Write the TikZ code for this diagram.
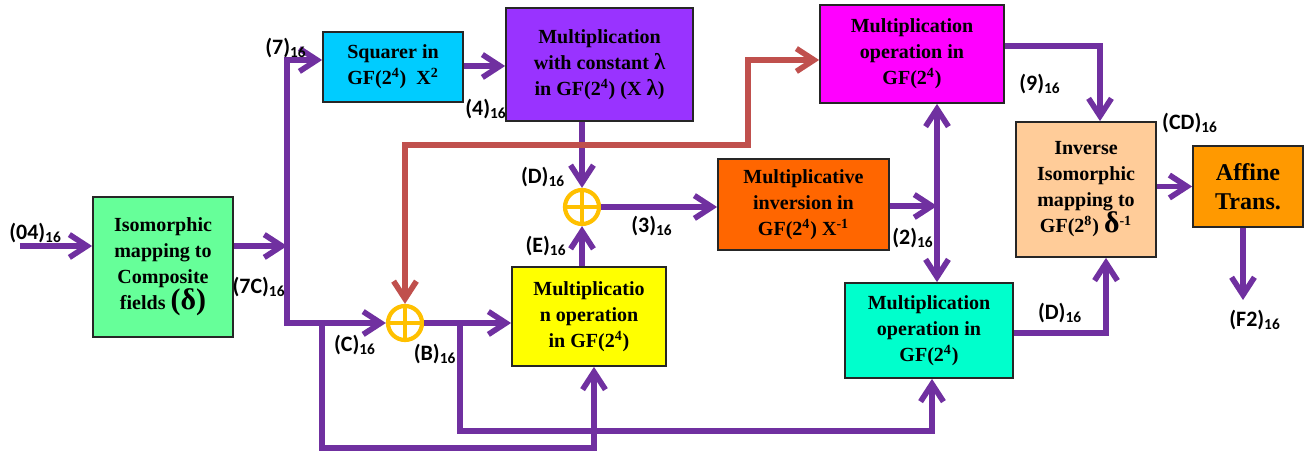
\documentclass[tikz,border=0pt]{standalone}
\usepackage{fontspec}
\setmainfont{Liberation Serif}
\newfontfamily\lblfont{Carlito}
\usetikzlibrary{arrows.meta}
\definecolor{wirec}{HTML}{7030A0}
\definecolor{redc}{HTML}{C0504D}
\definecolor{xorc}{HTML}{FFC000}
\definecolor{isoc}{HTML}{66FF99}
\definecolor{sqc}{HTML}{00CCFF}
\definecolor{lamc}{HTML}{9933FF}
\definecolor{magc}{HTML}{FF00FF}
\definecolor{invc}{HTML}{FF6600}
\definecolor{yelc}{HTML}{FFFF00}
\definecolor{tealc}{HTML}{00FFCC}
\definecolor{peachc}{HTML}{FFCC99}
\definecolor{affc}{HTML}{FF9900}
\newcommand{\hexv}[1]{#1\textsubscript{16}}
\newcommand{\gfq}[1]{GF(2\textsuperscript{#1})}

\begin{document}
\begin{tikzpicture}[
    box/.style={rectangle, draw=black!85, line width=1pt, align=center,
                inner sep=1pt, font=\fontsize{11.4}{14.8}\selectfont\bfseries},
    xor/.style={circle, draw=xorc, line width=2.4pt, minimum size=0.68cm, inner sep=0pt},
    barb/.tip={Straight Barb[length=10pt, width=13pt]},
    arr/.style={-barb, line width=3.2pt, wirec},
    dblarr/.style={arr, barb-barb},
    redarr/.style={dblarr, redc},
    lbl/.style={font=\lblfont\fontsize{12.5}{14}\selectfont\bfseries, inner sep=0pt}
]
\useasboundingbox (0,0) rectangle (26.18,9.12);
% blocks
\node[box, fill=isoc, minimum width=2.8cm, minimum height=2.8cm] (iso) at (3.26, 3.78)
    {Isomorphic\\mapping to\\Composite\\fields {\fontsize{17}{14.8}\selectfont(δ)}};
\node[box, fill=sqc, minimum width=2.8cm, minimum height=1.4cm] (sq) at (7.86, 7.78)
    {Squarer in\\\gfq{4}~ X\textsuperscript{2}};
\node[box, fill=lamc, minimum width=3.74cm, minimum height=2.26cm] (lam) at (11.99, 7.83)
    {Multiplication\\with constant {\fontsize{13}{14.8}\selectfont λ}\\in \gfq{4} (X {\fontsize{13}{14.8}\selectfont λ})};
\node[box, fill=magc, minimum width=3.68cm, minimum height=1.96cm] (mag) at (18.24, 8.04)
    {Multiplication\\operation in\\\gfq{4}};
\node[box, fill=invc, minimum width=3.42cm, minimum height=1.82cm] (inv) at (16.07, 5.03)
    {Multiplicative\\inversion in\\\gfq{4} X\textsuperscript{-1}};
\node[box, fill=yelc, minimum width=3.08cm, minimum height=1.98cm] (yel) at (11.78, 2.79)
    {Multiplicatio\\n operation\\in \gfq{4}};
\node[box, fill=tealc, minimum width=3.36cm, minimum height=1.9cm] (teal) at (18.58, 2.51)
    {Multiplication\\operation in\\\gfq{4}};
\node[box, fill=peachc, minimum width=2.8cm, minimum height=2.7cm] (peach) at (21.72, 5.33)
    {Inverse\\Isomorphic\\mapping to\\\gfq{8} {\fontsize{17}{14.8}\selectfont δ}\textsuperscript{-1}};
\node[box, fill=affc, minimum width=2.2cm, minimum height=1.62cm,
      font=\fontsize{13.7}{16.5}\selectfont\bfseries] (aff) at (24.96, 5.39) {Affine\\Trans.};
% xor gates
\node[xor] (xt) at (11.64, 4.98) {};
\node[xor] (xb) at (8.10, 2.66) {};
\foreach \g in {xt, xb}
  \draw[xorc, line width=1.8pt] (\g.north) -- (\g.south) (\g.west) -- (\g.east);
% junction points
\coordinate (in)  at (0.4, 4.2);
\coordinate (j7c) at (5.74, 4.2);
\coordinate (j7)  at (5.74, 7.92);
\coordinate (jm)  at (18.74, 5.0);
\coordinate (r1)  at (14.96, 6.22);
\coordinate (r2)  at (14.96, 7.92);
\coordinate (bc)  at (6.44, 0.16);
\coordinate (bc2) at (11.88, 0.16);
\coordinate (bb)  at (9.2, 0.5);
\coordinate (bb2) at (18.64, 0.5);
\coordinate (c9)  at (22.0, 8.2);
\coordinate (cD)  at (22.12, 2.46);
\coordinate (out) at (24.86, 3.12);
% connectors
\draw[arr] (in) -- (in -| iso.west);
\draw[arr] (iso.east |- j7c) -- (j7c);
\draw[dblarr] (j7 -| sq.west) -- (j7) -- (j7 |- xb) -- (xb.west);
\draw[arr] (sq.east |- 0,7.8) -- (lam.west |- 0,7.8);
\draw[arr] (lam.south -| xt) -- (xt.north);
\draw[arr] (yel.north -| xt) -- (xt.south);
\draw[arr] (xt.east) -- (xt.east -| inv.west);
\draw[arr] (xb.east) -- (xb.east -| yel.west);
\draw[arr] (bc |- xb) -- (bc) -- (bc2) -- (bc2 |- yel.south);
\draw[arr] (bb |- xb) -- (bb) -- (bb2) -- (bb2 |- teal.south);
\draw[arr] (inv.east |- jm) -- (jm);
\draw[dblarr] (mag.south -| jm) -- (teal.north -| jm);
\draw[arr] (c9 -| mag.east) -- (c9) -- (c9 |- peach.north);
\draw[arr] (cD -| teal.east) -- (cD) -- (cD |- peach.south);
\draw[arr] (peach.east |- aff.west) -- (aff.west);
\draw[arr] (aff.south -| out) -- (out);
\draw[redarr] (xb.north) -- (xb.north |- r1) -- (r1) -- (r2) -- (r2 -| mag.west);
% values
\node[lbl] (l04) at (0.71, 4.46) {\hexv{(04)}};
\node[lbl] (l7)  at (5.72, 8.16) {\hexv{(7)}};
\node[lbl] (l7c) at (5.18, 3.38) {\hexv{(7C)}};
\node[lbl] (l4)  at (9.72, 6.94) {\hexv{(4)}};
\node[lbl] (lD)  at (10.86, 5.58) {\hexv{(D)}};
\node[lbl] (lE)  at (10.92, 4.2) {\hexv{(E)}};
\node[lbl] (l3)  at (13.04, 4.6) {\hexv{(3)}};
\node[lbl] (l2)  at (18.26, 4.36) {\hexv{(2)}};
\node[lbl] (lC)  at (7.10, 2.22) {\hexv{(C)}};
\node[lbl] (lB)  at (8.70, 2.04) {\hexv{(B)}};
\node[lbl] (l9)  at (20.8, 7.44) {\hexv{(9)}};
\node[lbl] (lCD) at (23.8, 6.66) {\hexv{(CD)}};
\node[lbl] (lD2) at (21.2, 2.86) {\hexv{(D)}};
\node[lbl] (lF2) at (25.1, 2.72) {\hexv{(F2)}};
\end{tikzpicture}
\end{document}
